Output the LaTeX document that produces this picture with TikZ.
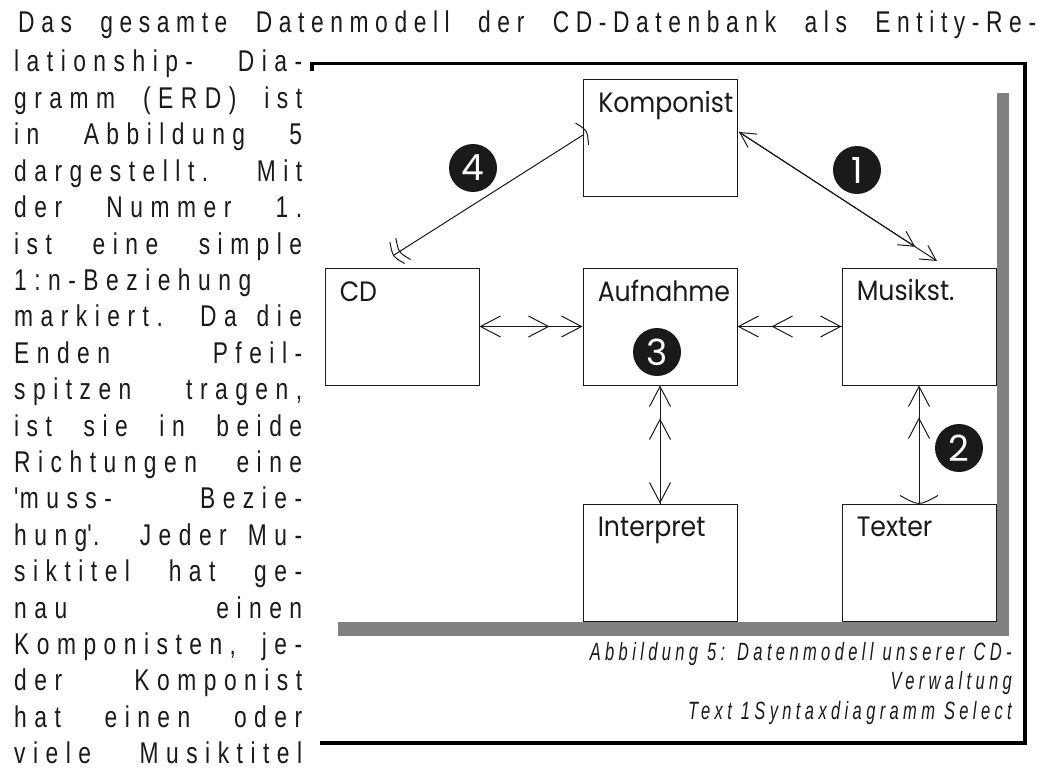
\documentclass[tikz,border=0pt]{standalone}
\usepackage{fontspec}
\usetikzlibrary{arrows.meta,calc}
\newfontfamily\bodyfont[FakeStretch=0.76,LetterSpace=25]{Liberation Sans}
\newfontfamily\capfont[FakeStretch=0.66,LetterSpace=17.5]{Liberation Sans}
\newfontfamily\boxfont[FakeStretch=0.9]{Poppins}
\newfontfamily\numfont{Poppins}
\definecolor{shadowgray}{HTML}{808080}
\definecolor{ink}{HTML}{1A1A1A}
\newcommand\colline[1]{\makebox[288pt][s]{#1}}
\tikzset{
  onehead/.tip={Straight Barb[length=20pt,width=21pt]},
  smallone/.tip={Straight Barb[length=15pt,width=16pt]},
  entity/.style={draw=ink, line width=0.9pt, fill=white, minimum width=154pt, minimum height=117pt, inner sep=0pt},
  elabel/.style={font=\boxfont\fontsize{28}{30}\selectfont, text=ink, inner sep=0pt, anchor=base west},
  conn/.style={draw=ink, line width=1pt},
  numc/.style={circle, fill=ink, text=white, minimum size=48pt, inner sep=0pt, font=\numfont\fontsize{36}{36}\selectfont},
  bodytxt/.style={font=\bodyfont\fontsize{30}{32}\selectfont, text=ink, inner sep=0pt, anchor=base west},
  captxt/.style={font=\capfont\itshape\fontsize{25}{28}\selectfont, text=ink, inner sep=0pt, anchor=base east},
}
\begin{document}
\begin{tikzpicture}[x=1pt,y=-1pt]
\useasboundingbox (0,0) rectangle (1046,778);
\fill[white] (0,0) rectangle (1046,778);

% body text
\node[bodytxt] (l1) at (18,33) {\addfontfeature{LetterSpace=22}\makebox[1018pt][s]{Das gesamte Datenmodell der CD-Datenbank als Entity-Re-}};
\node[bodytxt] (l2) at (14,72) {\colline{lationship- Dia-}};
\node[bodytxt] (l3) at (14,108.4) {\colline{gramm (ERD) ist}};
\node[bodytxt] (l4) at (14,144.8) {\colline{in Abbildung 5}};
\node[bodytxt] (l5) at (14,181.2) {\colline{dargestellt. Mit}};
\node[bodytxt] (l6) at (14,217.6) {\colline{der Nummer 1.}};
\node[bodytxt] (l7) at (14,254) {\colline{ist eine simple}};
\node[bodytxt] (l8) at (14,290.4) {1:n-Beziehung};
\node[bodytxt] (l9) at (14,326.8) {\colline{markiert. Da die}};
\node[bodytxt] (l10) at (14,363.2) {\colline{Enden Pfeil-}};
\node[bodytxt] (l11) at (14,399.6) {\colline{spitzen tragen,}};
\node[bodytxt] (l12) at (14,436) {\colline{ist sie in beide}};
\node[bodytxt] (l13) at (14,472.4) {\colline{Richtungen eine}};
\node[bodytxt] (l14) at (14,508.8) {\colline{\textquotesingle muss- Bezie-}};
\node[bodytxt] (l15) at (14,545.2) {\colline{hung\textquotesingle. Jeder Mu-}};
\node[bodytxt] (l16) at (14,581.6) {\colline{siktitel hat ge-}};
\node[bodytxt] (l17) at (14,618) {\colline{nau einen}};
\node[bodytxt] (l18) at (14,654.4) {\colline{Komponisten, je-}};
\node[bodytxt] (l19) at (14,690.8) {\colline{der Komponist}};
\node[bodytxt] (l20) at (14,727.2) {\colline{hat einen oder}};
\node[bodytxt] (l21) at (14,763.6) {\colline{viele Musiktitel}};

% frame
\draw[line width=3.5pt, black] (312,71) -- (312,63.5) -- (1025,63.5) -- (1025,743) -- (320,743);

% shadow
\fill[shadowgray] (997,93) rectangle (1009,636);
\fill[shadowgray] (338,622) rectangle (1009,636);

% entities
\node[entity] (komponist) at (660.5,137.5) {};
\node[entity] (cd) at (402,326.5) {};
\node[entity] (aufnahme) at (660,326.5) {};
\node[entity] (musikst) at (919,326.5) {};
\node[entity] (interpret) at (660,562.5) {};
\node[entity] (texter) at (919,562.5) {};

\node[elabel] (komponist-t) at ($(komponist.north west)+(15,34)$) {Komponist};
\node[elabel] (cd-t) at ($(cd.north west)+(15,34)$) {CD};
\node[elabel] (aufnahme-t) at ($(aufnahme.north west)+(15,34)$) {Aufnahme};
\node[elabel] (musikst-t) at ($(musikst.north west)+(15,33)$) {Musikst.};
\node[elabel] (interpret-t) at ($(interpret.north west)+(15,33)$) {Interpret};
\node[elabel] (texter-t) at ($(texter.north west)+(15,33)$) {Texter};

% connector 4: Komponist -- CD
\coordinate (kp4) at (583,135);
\coordinate (cd4) at (393.9,255.1);
\draw[conn] (kp4) -- (cd4);
\draw[conn] (575.5,123) .. controls (587.4,130.5) .. (588.5,145);
\draw[conn] (395.8,238) .. controls (398.6,252.5) .. (410.5,259.5);
\draw[conn] (389.9,242) .. controls (392.6,256.5) .. (404.5,263.5);

% connector 1: Komponist -- Musikst.
\coordinate (kp1) at (739,132);
\coordinate (ms1) at (937,261);
\draw[conn,{smallone}-{smallone}] (kp1) -- (ms1);
\draw[conn,-{smallone}] (kp1) -- ($(ms1)!26pt!(kp1)$);

% CD -- Aufnahme
\draw[conn,{onehead}-{onehead}] (cd.east) -- (aufnahme.west);
\draw[conn,-{onehead}] (cd.east) -- ($(aufnahme.west)!33pt!(cd.east)$);

% Aufnahme -- Musikst.
\draw[conn,{onehead}-{onehead}] (aufnahme.east) -- (musikst.west);
\draw[conn,{onehead}-] ($(aufnahme.east)!34pt!(musikst.west)$) -- (musikst.west);

% Aufnahme -- Interpret
\draw[conn,{onehead}-{onehead}] (aufnahme.south) -- (interpret.north);
\draw[conn,{onehead}-] ($(aufnahme.south)!33pt!(interpret.north)$) -- (interpret.north);

% Musikst. -- Texter
\coordinate (tx2) at (919,503);
\draw[conn,{onehead}-] (musikst.south) -- (tx2);
\draw[conn,{onehead}-] ($(musikst.south)!32pt!(tx2)$) -- (tx2);
\draw[conn] (900,495.5) .. controls (919,506) .. (938,495.5);

% numbers
\node[numc] (n4) at (473,168) {4};
\node[numc] (n1) at (857,170) {1};
\node[numc] (n3) at (657,352) {3};
\node[numc] (n2) at (959,448) {2};

% caption
\node[captxt] (c1) at (1012,660) {Abbildung 5: Datenmodell unserer CD-};
\node[captxt] (c2) at (1012,689.5) {Verwaltung};
\node[captxt] (c3) at (1012,719) {Text 1Syntaxdiagramm Select};
\end{tikzpicture}
\end{document}
